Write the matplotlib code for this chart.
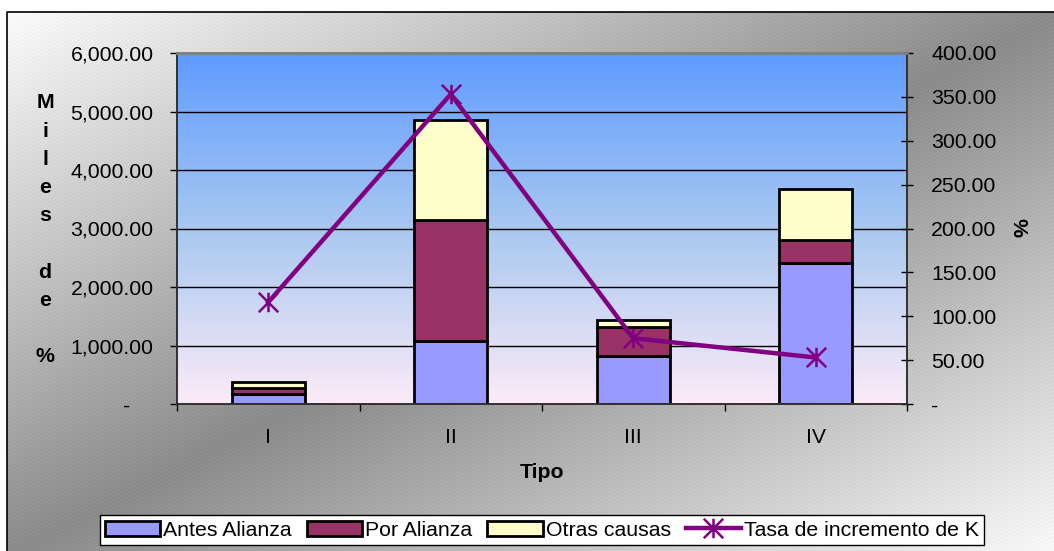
import numpy as np
import matplotlib
matplotlib.use("Agg")
import matplotlib.pyplot as plt
from matplotlib.path import Path
from matplotlib.colors import LinearSegmentedColormap

plt.rcParams['font.family'] = ['Liberation Sans', 'DejaVu Sans']

# ---- data ----
categories = ["I", "II", "III", "IV"]
antes_alianza = [166, 1077, 826, 2410]
por_alianza = [100, 2063, 495, 393]
otras_causas = [108, 1715, 115, 872]
tasa_incremento = [116, 353, 75, 53]

left_ticks = [0, 1000, 2000, 3000, 4000, 5000, 6000]
right_ticks = [0, 50, 100, 150, 200, 250, 300, 350, 400]

W, H = 1054, 551
FS = 15.3

fig = plt.figure(figsize=(W / 100, H / 100), dpi=100)

# ---- chart-area background: diagonal grey gradient with fine hatching ----
bg = fig.add_axes([0, 0, 1, 1], zorder=-10)
yy, xx = np.mgrid[0:H, 0:W].astype(float)
t = (xx - 7) / 1054 + (yy - 12) / 545
val = np.where(t <= 1, 248 - 112 * t, 136 + 112 * (t - 1))
stripes = ((xx + yy) % 4 == 0)
val = val + stripes * 12
val = np.clip(val, 0, 255)
outside = (xx < 7) | (yy < 12)
val[outside] = 255
img = np.dstack([val, val, val]) / 255.0
bg.imshow(img, extent=(0, W, H, 0), aspect='auto', interpolation='nearest')
bg.plot([7, 7, W], [H, 12, 12], color='black', lw=1.2)
bg.set_xlim(0, W)
bg.set_ylim(H, 0)
bg.axis('off')

# ---- plot area ----
ax = fig.add_axes([177 / W, 1 - 404 / H, 730 / W, 351 / H])
x = np.arange(len(categories))
ax.set_xlim(-0.5, len(categories) - 0.5)
ax.set_ylim(0, 6000)

grad = LinearSegmentedColormap.from_list(
    "plotarea", [(0.0, "#fcebf8"), (0.5, "#a8c8f0"), (1.0, "#5f9bff")])
ax.imshow(np.linspace(0, 1, 256).reshape(-1, 1), cmap=grad, origin='lower',
          extent=(-0.5, len(categories) - 0.5, 0, 6000), aspect='auto', zorder=0)

for g in left_ticks[1:-1]:
    ax.axhline(g, color='black', lw=1.0, zorder=1)

bw = 0.4
b1 = ax.bar(x, antes_alianza, bw, color='#9999ff', edgecolor='black', lw=2.0,
            zorder=2, label='Antes Alianza')
bottom2 = np.array(antes_alianza)
b2 = ax.bar(x, por_alianza, bw, bottom=bottom2, color='#993366',
            edgecolor='black', lw=2.0, zorder=2, label='Por Alianza')
bottom3 = bottom2 + np.array(por_alianza)
b3 = ax.bar(x, otras_causas, bw, bottom=bottom3, color='#ffffcc',
            edgecolor='black', lw=2.0, zorder=2, label='Otras causas')

ax.set_yticks(left_ticks)
ax.set_yticklabels(["-    " if v == 0 else f"{v:,.2f}" for v in left_ticks])
ax.tick_params(axis='y', direction='out', length=5, width=1, pad=12,
               labelsize=FS, right=False)

# category boundaries get ticks, centres get the labels
ax.set_xticks(np.arange(-0.5, len(categories), 1.0))
ax.set_xticklabels([])
ax.set_xticks(x, minor=True)
ax.set_xticklabels(categories, minor=True)
ax.tick_params(axis='x', which='major', direction='out', length=5, width=1)
ax.tick_params(axis='x', which='minor', length=0, pad=17, labelsize=FS)

for side in ['left', 'bottom', 'right']:
    ax.spines[side].set_color('#303030')
    ax.spines[side].set_linewidth(1.2)
ax.spines['top'].set_color('#808080')
ax.spines['top'].set_linewidth(2)

# ---- secondary axis with the growth rate ----
ax2 = ax.twinx()
ax2.set_ylim(0, 400)
star = Path([(0, -1), (0, 1), (-1, -1), (1, 1), (-1, 1), (1, -1)],
            [Path.MOVETO, Path.LINETO, Path.MOVETO, Path.LINETO,
             Path.MOVETO, Path.LINETO])
ln, = ax2.plot(x, tasa_incremento, color='#800080', lw=3.2, marker=star,
               markersize=14, markeredgewidth=1.8, zorder=5,
               label='Tasa de incremento de K')
ax2.set_yticks(right_ticks)
ax2.set_yticklabels(["-" if v == 0 else f"{v:.2f}" for v in right_ticks])
ax2.tick_params(axis='y', direction='inout', length=9, width=1, pad=13,
                labelsize=FS)
for side in ['left', 'bottom', 'right']:
    ax2.spines[side].set_color('#303030')
    ax2.spines[side].set_linewidth(1.2)
ax2.spines['top'].set_color('#808080')
ax2.spines['top'].set_linewidth(2)

# ---- axis titles ----
fig.text(542 / W, 1 - 473 / H, "Tipo", ha='center', va='center',
         fontsize=FS, fontweight='bold')
fig.text(1023 / W, 1 - 228 / H, "%", ha='center', va='center', rotation=90,
         fontsize=FS, fontweight='bold')
left_title = "Miles de %"
for k, ch in enumerate(left_title):
    if ch.strip():
        fig.text(45 / W, 1 - (108.5 + k * 28.2) / H, ch, ha='center',
                 va='baseline', fontsize=FS, fontweight='bold')

# ---- legend ----
leg = fig.legend([b1, b2, b3, ln],
                 ['Antes Alianza', 'Por Alianza', 'Otras causas',
                  'Tasa de incremento de K'],
                 loc='center', bbox_to_anchor=(542 / W, 1 - 530 / H), ncol=4,
                 fontsize=FS, frameon=True, fancybox=False, shadow=False,
                 edgecolor='black', facecolor='white', framealpha=1,
                 borderpad=0.25, handlelength=2.6, handleheight=0.7,
                 handletextpad=0.15, columnspacing=0.7, borderaxespad=0,
                 numpoints=1)
leg.get_frame().set_linewidth(1.0)

fig.savefig("out.png", dpi=100)
